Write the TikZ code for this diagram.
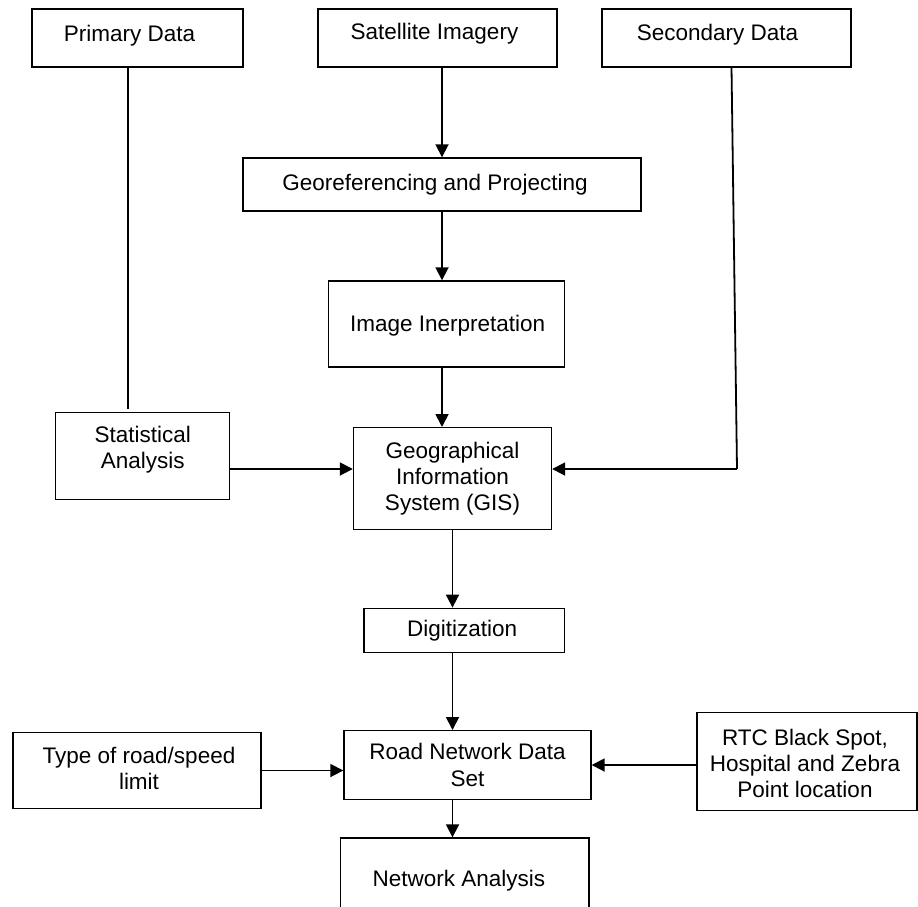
\documentclass[tikz,border=0pt]{standalone}
\usepackage{fontspec}
\setmainfont{Liberation Sans}
\usetikzlibrary{arrows.meta}
\begin{document}
\begin{tikzpicture}[x=1pt,y=-1pt,
  box/.style={draw, line width=1.4pt, inner sep=0pt},
  lab/.style={align=center, inner sep=0pt, font=\fontsize{22.5}{26.3}\selectfont},
  conn/.style={line width=1.8pt},
  arr/.style={line width=1.8pt, -{Triangle[length=13pt,width=13pt]}}]
\useasboundingbox (0,0) rectangle (918,907);
\clip (0,0) rectangle (918,907);
\fill[white] (0,0) rectangle (918,907);
% boxes
\node[box, minimum width=211pt, minimum height=58pt,
  label={[lab, xshift=-8pt, yshift=2pt]center:Primary Data}] (prim) at (137.5,38) {};
\node[box, minimum width=239pt, minimum height=58pt,
  label={[lab, xshift=-3pt, yshift=4pt]center:Satellite Imagery}] (sat) at (437.5,38) {};
\node[box, minimum width=249pt, minimum height=58pt,
  label={[lab, xshift=-9pt, yshift=3pt]center:Secondary Data}] (sec) at (726.5,38) {};
\node[box, minimum width=398pt, minimum height=53pt,
  label={[lab, xshift=-7pt]center:Georeferencing and Projecting}] (geo) at (442,184.5) {};
\node[box, minimum width=236pt, minimum height=86pt,
  label={[lab, xshift=1pt, yshift=-2pt]center:Image Inerpretation}] (img) at (446.6,324) {};
\node[box, minimum width=174pt, minimum height=86.6pt,
  label={[lab, yshift=6pt]center:Statistical\\Analysis}] (stat) at (142.7,456) {};
\node[box, minimum width=198pt, minimum height=101.6pt,
  label={[lab]center:Geographical\\Information\\System (GIS)}] (gis) at (452.5,478.5) {};
\node[box, minimum width=200.5pt, minimum height=44.4pt,
  label={[lab, xshift=-2pt]center:Digitization}] (dig) at (464.2,630.5) {};
\node[box, minimum width=247pt, minimum height=68.6pt,
  label={[lab]center:Road Network Data\\Set}] (road) at (467.5,765) {};
\node[box, minimum width=248pt, minimum height=76.4pt,
  label={[lab, xshift=2pt, yshift=2pt]center:Type of road/speed\\limit}] (type) at (137,770.5) {};
\node[box, minimum width=220pt, minimum height=98pt,
  label={[lab, xshift=-2pt, yshift=-2pt]center:RTC Black Spot,\\Hospital and Zebra\\Point location}] (rtc) at (807,761.3) {};
\node[box, minimum width=248.4pt, minimum height=86pt,
  label={[lab, xshift=-6pt]center:Network Analysis}] (net) at (464.8,881) {};
% coordinates
\coordinate (pend) at (128,409);
\coordinate (sectop) at (731.5,67);
\coordinate (secturn) at (737,469);
% connectors
\draw[conn] (prim.south -| pend) -- (pend);
\draw[arr] (sat.south -| geo.north) -- (geo.north);
\draw[arr] (geo.south) -- (geo.south |- img.north);
\draw[arr] (geo.south |- img.south) -- (geo.south |- gis.north);
\draw[conn] (sectop) -- (secturn);
\draw[arr] (secturn) -- (gis.east |- secturn);
\draw[arr] (stat.east |- secturn) -- (gis.west |- secturn);
\draw[arr] (gis.south) -- (gis.south |- dig.north);
\draw[arr] (gis.south |- dig.south) -- (gis.south |- road.north);
\draw[arr] (type.east) -- (road.west |- type.east);
\draw[arr] (rtc.west |- road.east) -- (road.east);
\draw[arr] (gis.south |- road.south) -- (gis.south |- net.north);
\end{tikzpicture}
\end{document}
